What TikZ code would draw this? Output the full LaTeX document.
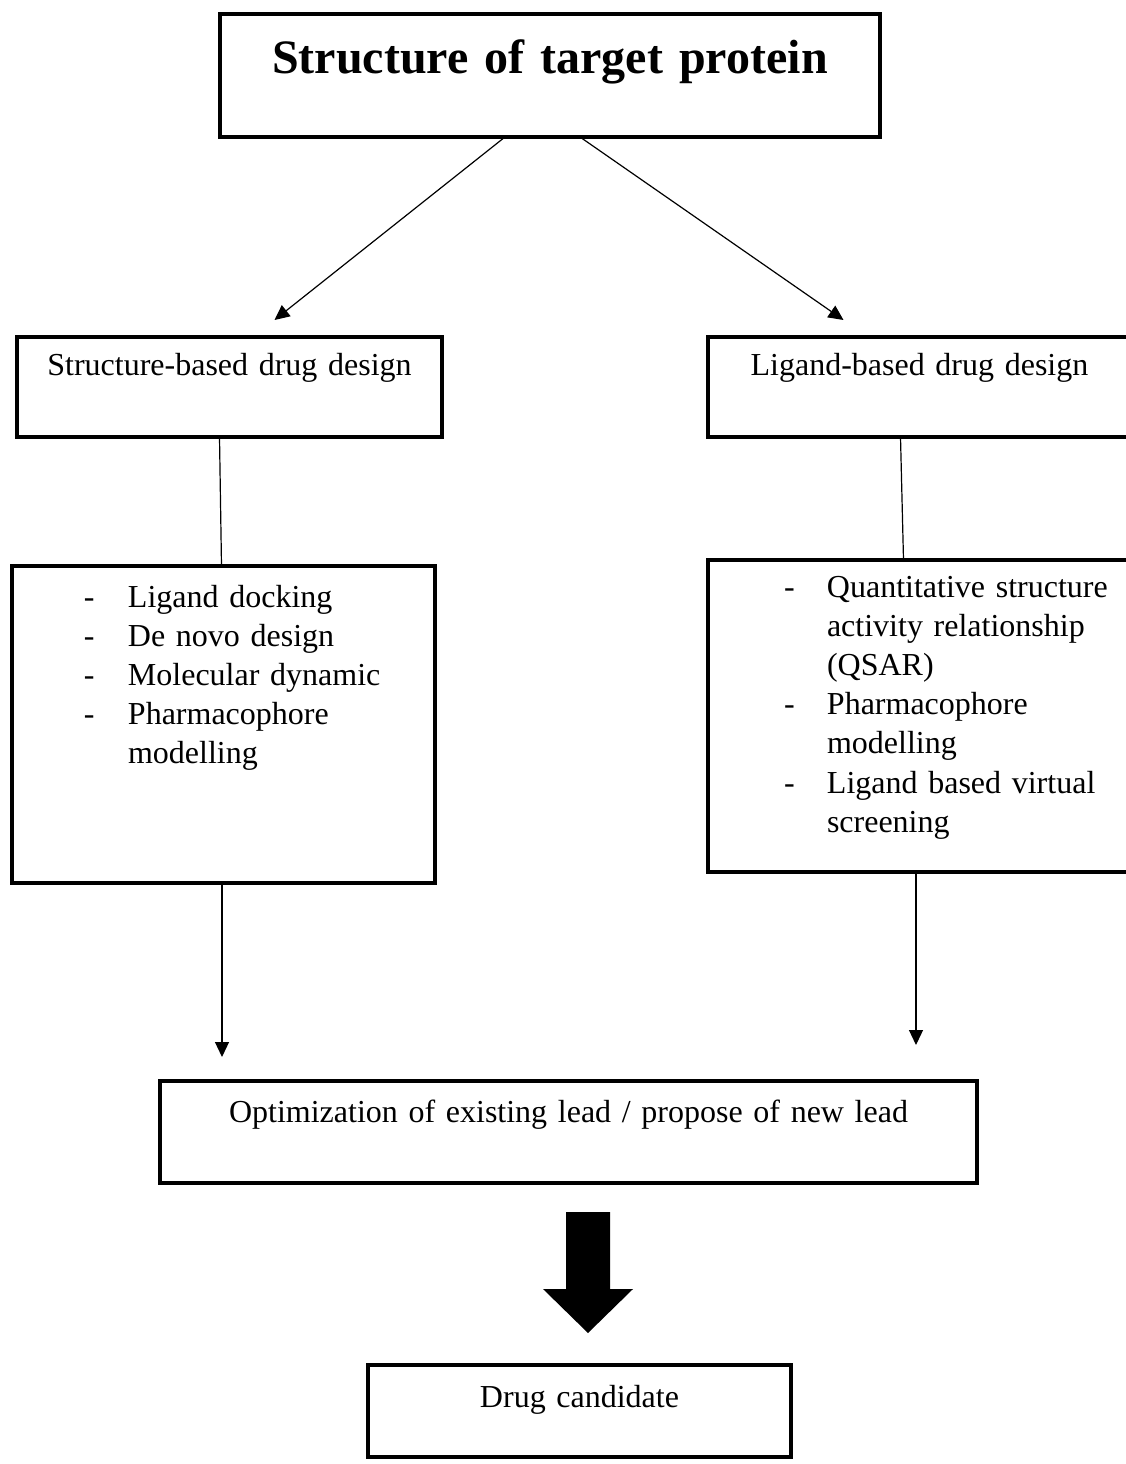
\documentclass[tikz,border=0pt]{standalone}
\usepackage{fontspec}
\setmainfont{Liberation Serif}
\usetikzlibrary{arrows.meta,positioning}

\begin{document}
\begin{tikzpicture}[
    x=1pt, y=-1pt,
    font=\fontsize{32}{39.2}\selectfont,
    stage/.style={draw, line width=3.5pt, inner sep=0pt, outer sep=0pt, align=center, anchor=north west},
    methods/.style={stage, align=left, text width=423pt},
    link/.style={line width=1.2pt},
    flow/.style={link, -{Triangle[length=15pt,width=14pt]}}
  ]
  \useasboundingbox (0,0) rectangle (1125,1464);

  % boxes, placed by their top left corner
  \node[stage, line width=4.5pt, font=\fontsize{48}{58}\selectfont\bfseries,
        text width=660pt, text height=60pt, text depth=63pt] (target) at (220,14) {Structure of target protein};
  \node[stage, text width=425pt, text height=38pt, text depth=62pt] (sbdd) at (17,337) {Structure-based drug design};
  \node[stage, text width=423pt, text height=38pt, text depth=62pt] (lbdd) at (708,337) {Ligand-based drug design};
  \node[methods, text height=41pt, text depth=276pt] (sbddlist) at (12,566) {%
    \hspace*{72pt}\begin{tabular}[t]{@{}p{44pt}@{}l@{}}
      - & Ligand docking\\
      - & De novo design\\
      - & Molecular dynamic\\
      - & Pharmacophore\\
        & modelling
    \end{tabular}};
  \node[methods, text height=37pt, text depth=275pt] (lbddlist) at (708,560) {%
    \hspace*{76pt}\begin{tabular}[t]{@{}p{43pt}@{}l@{}}
      - & Quantitative structure\\
        & activity relationship\\
        & (QSAR)\\
      - & Pharmacophore\\
        & modelling\\
      - & Ligand based virtual\\
        & screening
    \end{tabular}};
  \node[stage, text width=817pt, text height=41pt, text depth=61pt] (lead) at (160,1081) {Optimization of existing lead / propose of new lead};
  \node[stage, text width=423pt, text height=42pt, text depth=50pt] (drug) at (368,1365) {Drug candidate};

  % connectors
  \draw[flow] ([xshift=-45pt]target.south) -- ([xshift=45pt,yshift=17pt]sbdd.north);
  \draw[flow] ([xshift=30pt]target.south) -- ([xshift=-76pt,yshift=17pt]lbdd.north);
  \draw[link] ([xshift=-10pt]sbdd.south) -- ([xshift=-2pt]sbddlist.north);
  \draw[link] ([xshift=-19pt]lbdd.south) -- ([xshift=-16pt]lbddlist.north);
  \draw[flow, shorten >=24pt] ([xshift=-1.5pt]sbddlist.south) -- ([xshift=-1.5pt]sbddlist.south |- lead.north);
  \draw[flow, shorten >=36pt] ([xshift=-3.5pt]lbddlist.south) -- ([xshift=-3.5pt]lbddlist.south |- lead.north);

  % block arrow down to the candidate
  \coordinate (bigtop) at (588,1212);
  \fill (bigtop) ++(-22,0) -- ++(44,0) -- ++(0,77) -- ++(23,0) -- ++(-45,44) -- ++(-45,-44) -- ++(23,0) -- cycle;
\end{tikzpicture}
\end{document}
